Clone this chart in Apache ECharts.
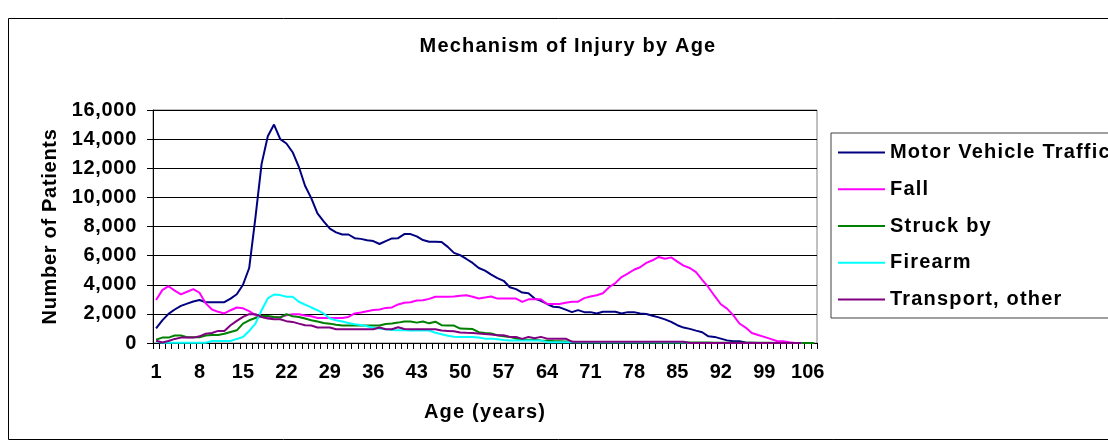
<!DOCTYPE html>
<html>
<head>
<meta charset="utf-8">
<script src="https://cdn.jsdelivr.net/npm/echarts@6/dist/echarts.min.js"></script>
<style>
  html, body { margin: 0; padding: 0; background: #fff; }
  #main { width: 1108px; height: 447px; }
</style>
</head>
<body>
<div id="main"></div>
<script>
    // the old Excel export spreads its bold letters a little; canvas letterSpacing
    // is keyed off the fallback family so measuring and drawing stay in step
    (function () {
        var proto = CanvasRenderingContext2D.prototype;
        var desc = Object.getOwnPropertyDescriptor(proto, 'font');
        if (!desc || !('letterSpacing' in proto)) { return; }
        Object.defineProperty(proto, 'font', {
            configurable: true,
            get: function () { return desc.get.call(this); },
            set: function (v) {
                desc.set.call(this, v);
                var sp = '0px';
                if (/Arial/.test(v)) { sp = '1.2px'; }
                else if (/Helvetica/.test(v)) { sp = '0.7px'; }
                this.letterSpacing = sp;
            }
        });
    })();

    // ages 1..107
    var ages = [];
    for (var a = 1; a <= 107; a++) { ages.push(String(a)); }

    var yTicks = [0, 2000, 4000, 6000, 8000, 10000, 12000, 14000, 16000];

    var motorVehicle = [
        1000, 1550, 2000, 2300, 2550, 2700, 2850, 2950, 2800, 2800,
        2800, 2800, 3050, 3350, 4000, 5150, 8600, 12300, 14200, 15000,
        14000, 13700, 13100, 12100, 10800, 9950, 8900, 8350, 7850, 7600,
        7450, 7450, 7200, 7150, 7050, 7000, 6800, 7000, 7180, 7200,
        7480, 7480, 7320, 7070, 6950, 6950, 6930, 6600, 6190, 6030,
        5770, 5500, 5150, 4970, 4690, 4460, 4270, 3830, 3700, 3460,
        3420, 3050, 2890, 2680, 2490, 2450, 2290, 2120, 2260, 2120,
        2120, 2030, 2150, 2150, 2150, 2030, 2120, 2120, 2030, 1990,
        1870, 1760, 1620, 1450, 1220, 1060, 970, 850, 740, 460,
        420, 300, 180, 120, 120, 30, 20, 0, 0, 0,
        0, 0, 0, 0, 0, null, null
    ];
    var fall = [
        2950, 3630, 3900, 3600, 3340, 3520, 3700, 3450, 2720, 2300,
        2140, 2030, 2250, 2440, 2380, 2190, 1910, 1790, 1760, 1770,
        1790, 1910, 1980, 1980, 1890, 1840, 1720, 1720, 1720, 1720,
        1720, 1790, 2030, 2100, 2180, 2260, 2300, 2410, 2440, 2650,
        2760, 2800, 2920, 2940, 3030, 3180, 3180, 3180, 3190, 3250,
        3280, 3180, 3060, 3130, 3190, 3050, 3050, 3050, 3050, 2820,
        3000, 3000, 3000, 2680, 2680, 2680, 2770, 2840, 2840, 3080,
        3190, 3280, 3420, 3830, 4110, 4530, 4760, 5030, 5200, 5500,
        5680, 5910, 5780, 5880, 5590, 5310, 5150, 4870, 4340, 3830,
        3230, 2660, 2360, 1910, 1340, 1060, 690, 550, 420, 280,
        140, 120, 50, 0, 0, null, null
    ];
    var struckBy = [
        230, 370, 370, 510, 510, 400, 400, 400, 510, 550,
        550, 640, 760, 870, 1330, 1560, 1720, 1860, 1860, 1790,
        1750, 1980, 1840, 1790, 1680, 1560, 1470, 1380, 1330, 1260,
        1200, 1200, 1200, 1200, 1200, 1200, 1200, 1310, 1340, 1400,
        1480, 1470, 1400, 1480, 1350, 1460, 1220, 1200, 1200, 990,
        980, 960, 740, 690, 650, 530, 460, 420, 300, 230,
        230, 230, 180, 150, 130, 120, 100, 80, 60, 60,
        60, 60, 60, 60, 60, 60, 60, 60, 60, 60,
        40, 40, 40, 40, 40, 40, 40, 40, 40, 40,
        20, 20, 20, 20, 20, 20, 20, 20, 20, 20,
        0, 0, 0, 0, 0, 0, 0
    ];
    var firearm = [
        110, 20, 20, 20, 20, 20, 20, 20, 20, 140,
        140, 140, 140, 280, 410, 830, 1330, 2250, 3060, 3330,
        3290, 3170, 3170, 2830, 2640, 2440, 2250, 2020, 1680, 1560,
        1470, 1380, 1290, 1230, 1150, 1050, 990, 940, 900, 880,
        880, 860, 860, 860, 860, 700, 600, 500, 430, 420,
        420, 420, 380, 300, 300, 250, 200, 180, 180, 180,
        180, 180, 180, 60, 60, 60, 60, 60, 60, 60,
        60, 60, 60, 60, 60, 60, 60, 60, 60, 60,
        60, 60, 60, 60, 60, 60, 0, 0, 0, 0,
        0, 0, 0, 0, 0, 0, 0, 0, 0, 0,
        0, 0, 0, 0, 0, null, null
    ];
    var transportOther = [
        150, 30, 140, 280, 370, 370, 370, 460, 640, 690,
        830, 830, 1220, 1520, 1790, 1980, 1980, 1790, 1680, 1630,
        1630, 1500, 1450, 1330, 1220, 1200, 1060, 1060, 1060, 940,
        940, 940, 940, 940, 940, 940, 1060, 940, 940, 1080,
        960, 940, 940, 940, 940, 940, 860, 830, 800, 720,
        700, 690, 650, 620, 580, 530, 530, 420, 420, 280,
        420, 320, 420, 300, 300, 300, 300, 90, 90, 90,
        90, 90, 90, 90, 90, 90, 90, 90, 90, 90,
        90, 90, 90, 90, 90, 90, 0, 0, 0, 0,
        0, 0, 0, 0, 0, 0, 0, 0, 0, 0,
        0, 0, 0, 0, 0, null, null
    ];

    var seriesNames = ['Motor Vehicle Traffic', 'Fall', 'Struck by', 'Firearm', 'Transport, other'];
    var seriesData = [motorVehicle, fall, struckBy, firearm, transportOther];
    var seriesColors = ['#000080', '#FF00FF', '#008000', '#00FFFF', '#800080'];

    var FONT = 'Liberation Sans';                  // plain
    var FONT_WIDE = 'Liberation Sans, Arial';      // spaced out (title, legend, x name)
    var FONT_MID = 'Liberation Sans, Helvetica';   // a bit spaced (y labels, y name)

    var myChart = echarts.init(document.getElementById('main'));

    var series = seriesNames.map(function (name, i) {
        return {
            name: name,
            type: 'line',
            data: seriesData[i],
            symbol: 'none',
            showSymbol: false,
            connectNulls: false,
            color: seriesColors[i],
            lineStyle: { width: 2, color: seriesColors[i] },
            emphasis: { disabled: true }
        };
    });

    var option = {
        animation: false,
        backgroundColor: '#ffffff',
        title: {
            text: 'Mechanism of Injury by Age',
            left: 563,
            top: 31,
            textAlign: 'center',
            textStyle: { fontFamily: FONT_WIDE, fontSize: 20, fontWeight: 'bold', color: '#000' }
        },
        legend: {
            orient: 'vertical',
            left: 831,
            top: 133,
            padding: [9, 40, 8, 7],
            itemGap: 15.5,
            itemWidth: 47,
            itemHeight: 2,
            icon: 'rect',
            borderColor: '#404040',
            borderWidth: 1,
            textStyle: { fontFamily: FONT_WIDE, fontSize: 20, fontWeight: 'bold', color: '#000', lineHeight: 19 },
            data: seriesNames
        },
        grid: {
            left: 153,
            right: 291,
            top: 110,
            bottom: 104,
            show: true,
            borderColor: '#808080',
            borderWidth: 1,
            containLabel: false
        },
        xAxis: {
            type: 'category',
            data: ages,
            boundaryGap: true,
            name: 'Age (years)',
            nameLocation: 'middle',
            nameGap: 59,
            nameTextStyle: { fontFamily: FONT_WIDE, fontSize: 20, fontWeight: 'bold', color: '#000' },
            axisLine: { lineStyle: { color: '#000', width: 1 } },
            axisTick: { show: true, interval: 0, length: 6, lineStyle: { color: '#000' } },
            axisLabel: { interval: 6, margin: 19, fontFamily: FONT, fontSize: 20, fontWeight: 'bold', color: '#000' },
            splitLine: { show: false }
        },
        yAxis: {
            type: 'value',
            min: yTicks[0],
            max: yTicks[yTicks.length - 1],
            interval: 2000,
            name: 'Number of Patients',
            nameLocation: 'middle',
            nameRotate: 90,
            nameGap: 88,
            nameTextStyle: { fontFamily: FONT_MID, fontSize: 20, fontWeight: 'bold', color: '#000' },
            axisLine: { show: true, lineStyle: { color: '#000', width: 1 } },
            axisTick: { show: true, length: 6, lineStyle: { color: '#000' } },
            axisLabel: {
                margin: 16,
                fontFamily: FONT_MID, fontSize: 20, fontWeight: 'bold', color: '#000',
                formatter: function (v) { return v.toLocaleString('en-US'); }
            },
            splitLine: { show: true, lineStyle: { color: '#000', width: 1 } }
        },
        graphic: [{
            type: 'rect',
            shape: { x: 8.5, y: 18.5, width: 1200, height: 421 },
            style: { fill: 'none', stroke: '#000', lineWidth: 1 },
            silent: true,
            z: 100
        }],
        series: series
    };

    myChart.setOption(option);
</script>
</body>
</html>
